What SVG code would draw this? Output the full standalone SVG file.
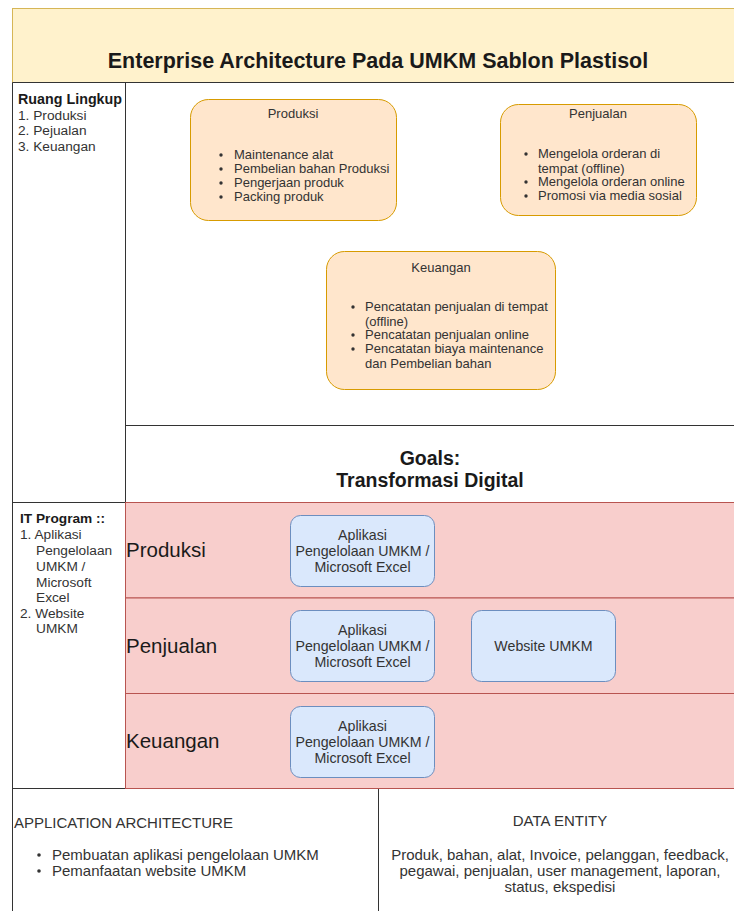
<svg xmlns="http://www.w3.org/2000/svg" width="734" height="911" viewBox="0 0 734 911">
  <style>
    text { font-family: "Liberation Sans", Arial, sans-serif; fill: #333333; }
    .frame { fill: none; stroke: #333333; stroke-width: 1; }
    .area { fill: #ffe6cc; stroke: #d79b00; stroke-width: 1; }
    .lane { fill: #f8cecc; stroke: #b85450; stroke-width: 1; }
    .app { fill: #dae8fc; stroke: #6c8ebf; stroke-width: 1; }
    .t13 { font-size: 13px; }
    .side { font-size: 13.7px; }
    .appt { font-size: 14.2px; }
    .t15 { font-size: 15px; }
    .lanelbl { font-size: 20.5px; fill: #1a1a1a; }
    .mid { text-anchor: middle; }
    .b { font-weight: bold; }
  </style>
  <defs>
    <clipPath id="leftcol">
      <rect x="12" y="82" width="113" height="420"/>
    </clipPath>
  </defs>

  <!-- title bar -->
  <g id="title">
    <rect x="12.5" y="8.5" width="730" height="74" fill="#fff2cc" stroke="#d6b656"/>
    <text x="378" y="68" class="mid b" font-size="21.5" style="fill:#1a1a1a">Enterprise Architecture Pada UMKM Sablon Plastisol</text>
  </g>

  <!-- page frame -->
  <g id="frame">
    <line class="frame" x1="12.5" y1="82.5" x2="734" y2="82.5"/>
    <line class="frame" x1="12.5" y1="82.5" x2="12.5" y2="911"/>
    <line class="frame" x1="125.5" y1="82.5" x2="125.5" y2="788.5"/>
    <line class="frame" x1="125.5" y1="425.5" x2="734" y2="425.5"/>
    <line class="frame" x1="12.5" y1="502.5" x2="125.5" y2="502.5"/>
    <line class="frame" x1="12.5" y1="788.5" x2="734" y2="788.5"/>
    <line class="frame" x1="378.5" y1="788.5" x2="378.5" y2="911"/>
  </g>

  <!-- scope (clipped by the column edge) -->
  <g id="scope" class="side" clip-path="url(#leftcol)">
    <text x="18" y="104" class="b" font-size="14.3" style="fill:#1a1a1a">Ruang Lingkup :</text>
    <text x="18" y="120">1. Produksi</text>
    <text x="18" y="135">2. Pejualan</text>
    <text x="18" y="151">3. Keuangan</text>
  </g>

  <!-- business areas -->
  <g id="produksi">
    <rect class="area" x="190.5" y="99.5" width="206" height="121" rx="18"/>
    <text x="293" y="118" class="t13 mid">Produksi</text>
    <g class="t13">
      <circle cx="221" cy="155" r="1.7" fill="#333"/>
      <text x="234" y="159">Maintenance alat</text>
      <circle cx="221" cy="169" r="1.7" fill="#333"/>
      <text x="234" y="173">Pembelian bahan Produksi</text>
      <circle cx="221" cy="183" r="1.7" fill="#333"/>
      <text x="234" y="187">Pengerjaan produk</text>
      <circle cx="221" cy="197" r="1.7" fill="#333"/>
      <text x="234" y="201">Packing produk</text>
    </g>
  </g>

  <g id="penjualan">
    <rect class="area" x="500.5" y="104.5" width="196" height="111" rx="18"/>
    <text x="598" y="118" class="t13 mid">Penjualan</text>
    <g class="t13">
      <circle cx="526" cy="154" r="1.7" fill="#333"/>
      <text x="538" y="158">Mengelola orderan di</text>
      <text x="538" y="172.5">tempat (offline)</text>
      <circle cx="526" cy="182" r="1.7" fill="#333"/>
      <text x="538" y="186">Mengelola orderan online</text>
      <circle cx="526" cy="196" r="1.7" fill="#333"/>
      <text x="538" y="200">Promosi via media sosial</text>
    </g>
  </g>

  <g id="keuangan">
    <rect class="area" x="326.5" y="251.5" width="229" height="138" rx="18"/>
    <text x="441" y="272" class="t13 mid">Keuangan</text>
    <g class="t13">
      <circle cx="353" cy="307" r="1.7" fill="#333"/>
      <text x="365" y="311">Pencatatan penjualan di tempat</text>
      <text x="365" y="325.5">(offline)</text>
      <circle cx="353" cy="335" r="1.7" fill="#333"/>
      <text x="365" y="339">Pencatatan penjualan online</text>
      <circle cx="353" cy="349" r="1.7" fill="#333"/>
      <text x="365" y="353">Pencatatan biaya maintenance</text>
      <text x="365" y="367.5">dan Pembelian bahan</text>
    </g>
  </g>

  <!-- goals -->
  <g id="goals">
    <text x="430" y="465" class="mid b" font-size="19.5" style="fill:#1a1a1a">Goals:</text>
    <text x="430" y="487" class="mid b" font-size="19.5" style="fill:#1a1a1a">Transformasi Digital</text>
  </g>

  <!-- IT programme -->
  <g id="it-program" class="side">
    <text x="20" y="523" class="b" style="fill:#1a1a1a">IT Program ::</text>
    <text x="20" y="539">1. Aplikasi</text>
    <text x="36" y="555">Pengelolaan</text>
    <text x="36" y="571">UMKM /</text>
    <text x="36" y="587">Microsoft</text>
    <text x="36" y="602">Excel</text>
    <text x="20" y="618">2. Website</text>
    <text x="36" y="633">UMKM</text>
  </g>

  <!-- swimlanes -->
  <g id="lane-produksi">
    <rect class="lane" x="125.5" y="502.5" width="620" height="95.5"/>
    <text x="126" y="557" class="lanelbl">Produksi</text>
  </g>
  <g id="lane-penjualan">
    <rect class="lane" x="125.5" y="598" width="620" height="95.5"/>
    <text x="126" y="653" class="lanelbl">Penjualan</text>
  </g>
  <g id="lane-keuangan">
    <rect class="lane" x="125.5" y="693.5" width="620" height="95"/>
    <text x="126" y="748" class="lanelbl">Keuangan</text>
  </g>

  <!-- applications -->
  <g id="app-produksi">
    <rect class="app" x="290.5" y="515.5" width="144" height="71" rx="10"/>
    <text x="362.5" y="540" class="appt mid">Aplikasi</text>
    <text x="362.5" y="556" class="appt mid">Pengelolaan UMKM /</text>
    <text x="362.5" y="572" class="appt mid">Microsoft Excel</text>
  </g>
  <g id="app-penjualan">
    <rect class="app" x="290.5" y="610.5" width="144" height="71" rx="10"/>
    <text x="362.5" y="635" class="appt mid">Aplikasi</text>
    <text x="362.5" y="651" class="appt mid">Pengelolaan UMKM /</text>
    <text x="362.5" y="667" class="appt mid">Microsoft Excel</text>
  </g>
  <g id="website-umkm">
    <rect class="app" x="471.5" y="610.5" width="144" height="71" rx="10"/>
    <text x="543.5" y="651" class="appt mid">Website UMKM</text>
  </g>
  <g id="app-keuangan">
    <rect class="app" x="290.5" y="706.5" width="144" height="71" rx="10"/>
    <text x="362.5" y="731" class="appt mid">Aplikasi</text>
    <text x="362.5" y="747" class="appt mid">Pengelolaan UMKM /</text>
    <text x="362.5" y="763" class="appt mid">Microsoft Excel</text>
  </g>

  <!-- application architecture -->
  <g id="application-architecture" class="t15">
    <text x="14" y="828">APPLICATION ARCHITECTURE</text>
    <circle cx="39" cy="855" r="1.8" fill="#333"/>
    <text x="52" y="860">Pembuatan aplikasi pengelolaan UMKM</text>
    <circle cx="39" cy="871" r="1.8" fill="#333"/>
    <text x="52" y="876">Pemanfaatan website UMKM</text>
  </g>

  <!-- data entity -->
  <g id="data-entity" class="t15">
    <text x="560" y="826" class="mid">DATA ENTITY</text>
    <text x="560" y="859.5" class="mid">Produk, bahan, alat, Invoice, pelanggan, feedback,</text>
    <text x="560" y="875.5" class="mid">pegawai, penjualan, user management, laporan,</text>
    <text x="560" y="891.5" class="mid">status, ekspedisi</text>
  </g>
</svg>
